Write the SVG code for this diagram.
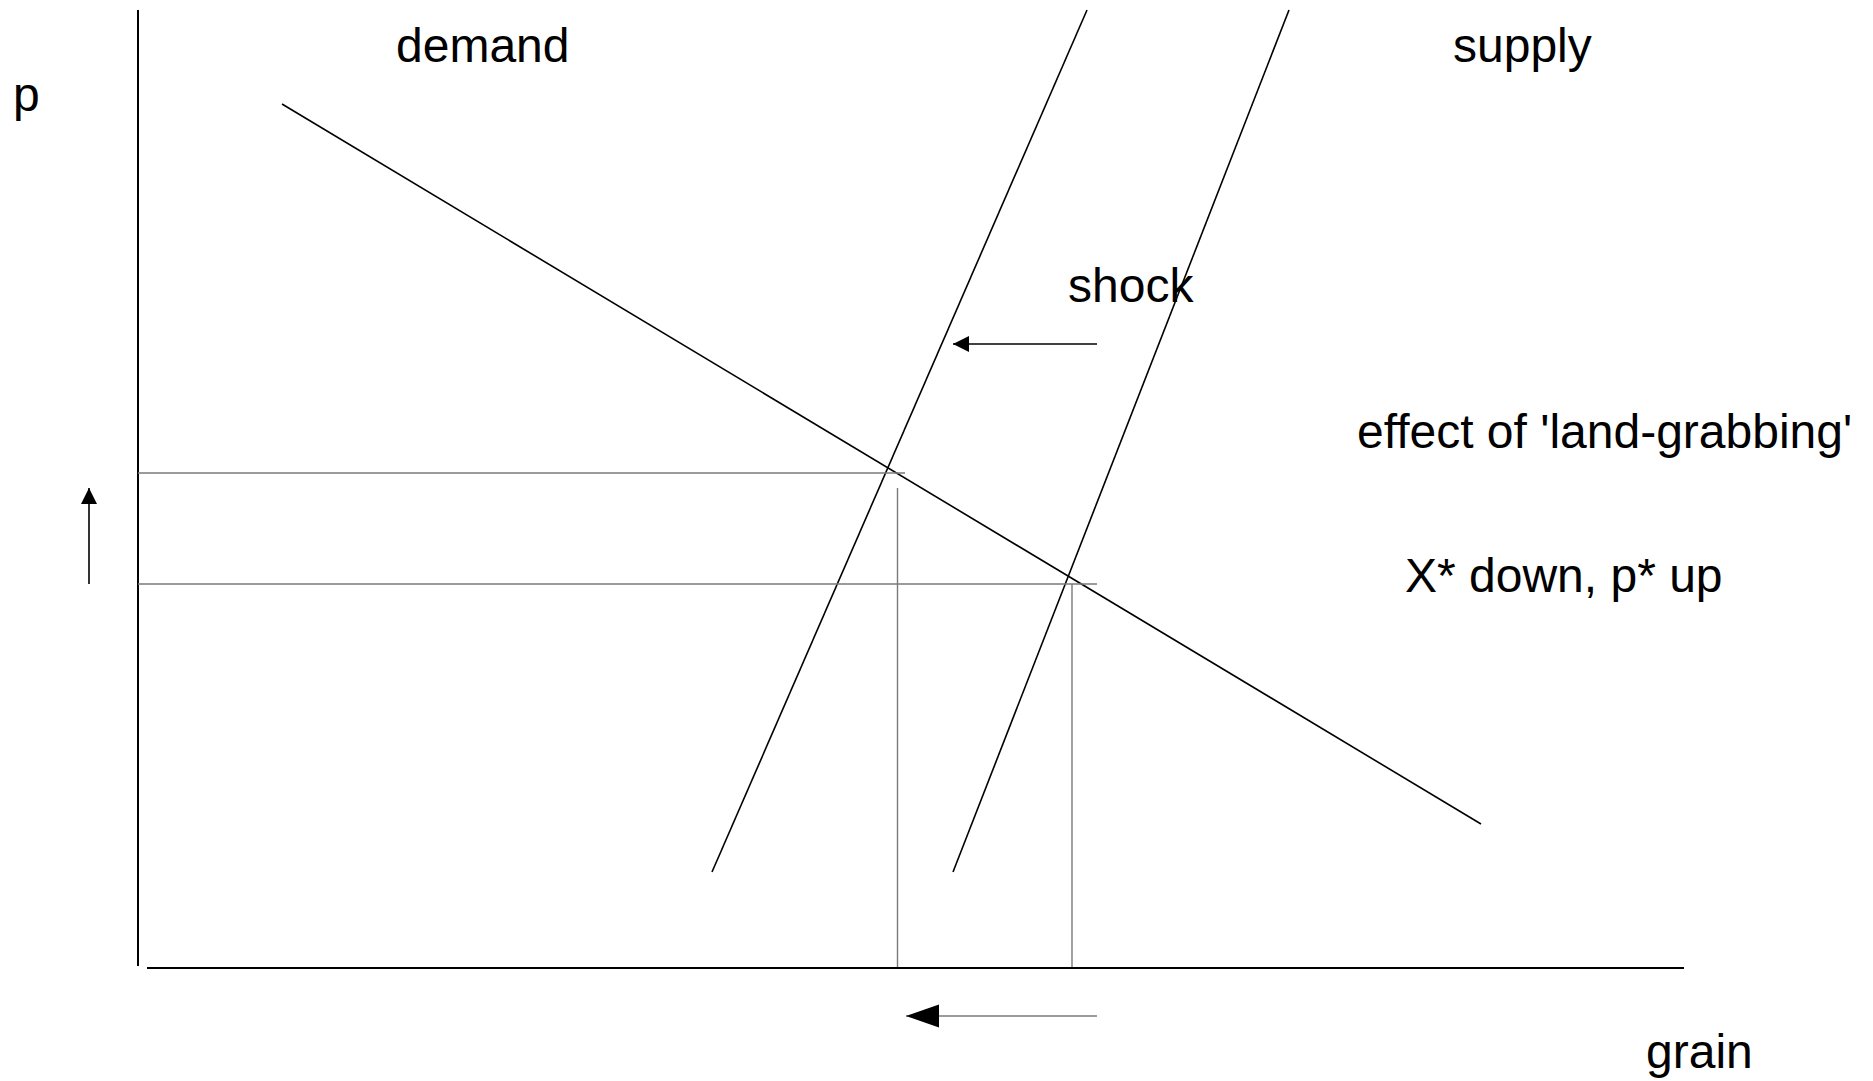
<svg xmlns="http://www.w3.org/2000/svg" width="1873" height="1081" viewBox="0 0 1873 1081">
<style>
.t{font-family:"Liberation Sans",Arial,sans-serif;font-size:48px;fill:#000}
.k{stroke:#000;stroke-width:1.6;fill:none}
.a{stroke:#000;stroke-width:2;fill:none}
.g{stroke:#7a7a7a;stroke-width:1.4;fill:none}
</style>
<defs>
<marker id="ah" markerUnits="userSpaceOnUse" markerWidth="18" markerHeight="18" refX="16" refY="8" orient="auto"><path d="M0,0 L16,8 L0,16 Z" fill="#000"/></marker>
<marker id="ahb" markerUnits="userSpaceOnUse" markerWidth="34" markerHeight="24" refX="33" refY="11.5" orient="auto"><path d="M0,0 L33,11.5 L0,23 Z" fill="#000"/></marker>
</defs>
<rect width="1873" height="1081" fill="#fff"/>
<g id="axes">
<line class="a" x1="138" y1="10" x2="138" y2="966"/>
<line class="a" x1="147" y1="968" x2="1684" y2="968"/>
</g>
<g id="curves">
<line class="k" x1="282" y1="104" x2="1481" y2="824"/>
<line class="k" x1="712" y1="872" x2="1087" y2="10"/>
<line class="k" x1="953" y1="872" x2="1289" y2="10"/>
</g>
<g id="guides">
<line class="g" x1="138" y1="473" x2="905" y2="473"/>
<line class="g" x1="897.5" y1="488" x2="897.5" y2="967"/>
<line class="g" x1="138" y1="584" x2="1097" y2="584"/>
<line class="g" x1="1072" y1="584" x2="1072" y2="967"/>
</g>
<g id="connectors">
<line class="k" x1="1097" y1="344" x2="953" y2="344" marker-end="url(#ah)"/>
<line class="k" x1="89" y1="584" x2="89" y2="488" marker-end="url(#ah)"/>
<line class="g" x1="1097" y1="1016" x2="906" y2="1016" stroke="#333" marker-end="url(#ahb)"/>
</g>
<g id="labels">
<text class="t" x="13" y="111">p</text>
<text class="t" x="396" y="62">demand</text>
<text class="t" x="1453" y="62">supply</text>
<text class="t" x="1068" y="302">shock</text>
<text class="t" x="1357" y="448">effect of 'land-grabbing'</text>
<text class="t" x="1405" y="592">X* down, p* up</text>
<text class="t" x="1646" y="1068">grain</text>
</g>
</svg>
